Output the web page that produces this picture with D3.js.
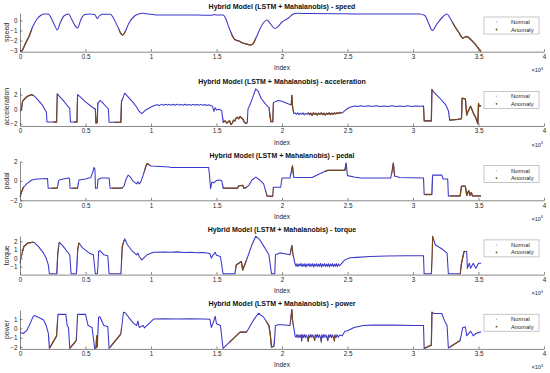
<!DOCTYPE html>
<html><head><meta charset="utf-8">
<script src="https://cdn.jsdelivr.net/npm/d3@7"></script>
<style>
body{margin:0;background:#fff}
svg{display:block}
text{font-family:"Liberation Sans",Arial,Helvetica,sans-serif}
</style>
</head><body>
<svg id="c" width="550" height="373"></svg>
<script>
// ---------- DATA ----------
const xTickValues = [0,5000,10000,15000,20000,25000,30000,35000,40000];
const xTickLabels = ["0","0.5","1","1.5","2","2.5","3","3.5","4"];
const seriesNames = ["speed","acceleration","pedal","torque","power"];
const legendLabels = ["Normal","Anomaly"];

const speedData = [[0,-3.1],[150,-3.02],[400,-2.35],[700,-1.55],[1000,-0.55],[1300,0.15],[1600,0.52],[1800,0.65],[2150,0.65],[2400,0.2],[2650,-0.5],[2850,-0.95],[3050,-0.3],[3350,0.45],[3700,0.65],[3950,0.1],[4150,-0.4],[4400,-0.75],[4650,0.1],[4950,0.6],[5300,0.65],[5700,0.6],[5900,0.2],[6050,0.45],[6300,0.62],[6900,0.62],[7150,0.2],[7450,-0.6],[7700,-1.3],[7850,-1.45],[8000,-1.2],[8300,-0.3],[8700,0.4],[9000,0.62],[9400,0.72],[9800,0.65],[10700,0.55],[12000,0.55],[13500,0.55],[14600,0.52],[14800,0.6],[15000,0.55],[15500,0.55],[15700,0.2],[15950,-0.7],[16200,-1.5],[16400,-1.9],[16700,-2.05],[17000,-2.25],[17300,-2.35],[17600,-2.45],[17800,-2.3],[18000,-1.8],[18300,-0.9],[18600,-0.2],[18850,0.05],[19100,-0.3],[19450,-0.8],[19700,-0.6],[20000,-0.15],[20500,0.25],[20800,0.6],[21100,0.72],[22000,0.7],[24000,0.68],[26000,0.65],[28000,0.65],[30500,0.65],[30900,0.5],[31200,-0.3],[31480,-1.0],[31800,-0.4],[32300,0.4],[32600,0.65],[32800,0.3],[33100,-0.4],[33500,-1.2],[33800,-1.75],[34100,-1.6],[34400,-1.9],[34700,-2.3],[35000,-2.8],[35200,-3.1]];
const speedAnomalies = [[0,900],[7550,8050],[16100,18000],[33000,35200]];

const accelData = [[0,-0.2],[100,-0.1],[200,1.1],[400,1.5],[600,1.8],[900,2.0],[1100,1.8],[1400,1.2],[1700,0.6],[1950,-0.2],[2020,-0.5],[2060,-1.75],[2800,-1.75],[2850,2.1],[3000,1.8],[3300,1.2],[3600,0.5],[3800,0.1],[3850,-1.75],[4350,-1.75],[4400,2.0],[4600,1.7],[5000,1.0],[5500,0.3],[5750,0.0],[5800,-1.9],[5900,-1.8],[5950,0.8],[6100,1.2],[6300,0.9],[6600,0.3],[6750,0.0],[6800,-1.8],[7700,-1.8],[7750,1.0],[8000,2.2],[8200,1.8],[8600,1.0],[8900,0.3],[9100,-0.3],[9300,-0.6],[9600,-0.1],[10000,0.3],[10300,0.55],[10500,0.62],[10650,0.52],[10800,0.66],[10950,0.55],[11100,0.68],[11250,0.56],[11400,0.66],[11550,0.54],[11700,0.67],[11850,0.55],[12000,0.7],[12150,0.56],[12300,0.66],[12450,0.55],[12600,0.68],[12750,0.55],[12900,0.65],[13050,0.54],[13200,0.66],[13350,0.56],[13500,0.64],[13650,0.54],[13800,0.66],[13950,0.55],[14100,0.64],[14250,0.52],[14400,0.6],[14550,0.5],[14700,0.4],[14800,-0.3],[14900,0.2],[15000,-0.1],[15200,0.0],[15400,-0.2],[15500,-1.8],[15650,-1.6],[15800,-1.9],[15900,-1.7],[16000,-1.6],[16100,-2.1],[16200,-1.9],[16300,-1.5],[16400,-1.6],[16500,-1.2],[16600,-1.1],[16700,-1.3],[16800,-1.0],[16900,-1.2],[17000,-1.3],[17100,-1.7],[17200,-1.9],[17350,-1.9],[17400,0.0],[17600,0.8],[17800,1.8],[18000,2.8],[18200,2.4],[18400,1.5],[18700,0.8],[19000,0.2],[19150,-1.7],[19300,-1.7],[19350,0.9],[19700,1.2],[20000,1.1],[20500,0.7],[20700,0.6],[20750,1.9],[20800,0.6],[20900,-0.6],[21000,-0.5],[21100,-0.7],[21200,-0.5],[21300,-0.75],[21400,-0.55],[21500,-0.7],[21600,-0.5],[21700,-0.8],[21800,-0.55],[21900,-0.7],[22000,-0.5],[22100,-0.75],[22200,-0.55],[22300,-0.85],[22400,-0.5],[22500,-0.7],[22600,-0.55],[22700,-0.8],[22800,-0.55],[22900,-0.7],[23000,-0.5],[23100,-0.75],[23200,-0.55],[23300,-0.8],[23400,-0.55],[23500,-0.7],[23600,-0.5],[23700,-0.75],[23800,-0.55],[23900,-0.7],[24000,-0.5],[24100,-0.65],[24200,-0.5],[24300,-0.6],[24400,-0.45],[24600,-0.5],[24800,-0.2],[25000,0.1],[25300,0.35],[25600,0.45],[25800,0.36],[26000,0.46],[26300,0.38],[26600,0.46],[26900,0.38],[27200,0.46],[27500,0.38],[27800,0.45],[28100,0.38],[28400,0.46],[28700,0.38],[29000,0.45],[29300,0.38],[29600,0.46],[29900,0.38],[30200,0.45],[30500,0.4],[30800,0.42],[30850,-1.6],[31400,-1.6],[31450,2.7],[31600,2.3],[32000,1.6],[32500,0.6],[32700,-0.2],[32800,-1.5],[33400,-1.4],[33700,-1.3],[33750,1.5],[34000,1.4],[34100,-0.8],[34200,-0.3],[34400,0.4],[34600,-0.5],[34800,-1.2],[34950,-2.0],[35000,0.8],[35050,0.4],[35200,0.5]];
const accelAnomalies = [[0,1000],[2550,2850],[4150,4400],[5700,5950],[7200,7800],[15500,17300],[19000,19350],[20650,20850],[22000,24500],[30800,31500],[32800,35200]];

const pedalData = [[0,-1.65],[100,-1.2],[250,-0.7],[500,-0.3],[900,0.1],[1300,0.2],[2100,0.25],[2150,-0.75],[2850,-0.75],[2950,0.0],[3000,0.1],[3300,0.2],[3700,0.3],[3780,0.25],[3820,-0.75],[4400,-0.75],[4500,0.1],[5000,0.2],[5400,0.35],[5550,0.9],[5650,1.4],[5720,1.2],[5760,-0.75],[5900,-0.75],[5950,0.15],[6200,0.3],[6800,0.3],[6880,-0.75],[7800,-0.75],[7950,-0.5],[8100,0.2],[8250,0.6],[8400,0.45],[8600,0.0],[8900,-0.3],[9000,-0.1],[9100,-0.3],[9200,-0.15],[9300,0.2],[9400,0.6],[9600,1.5],[9700,1.8],[10000,1.55],[11400,1.45],[11500,1.4],[14400,1.4],[14450,0.8],[14550,-0.8],[14650,-0.1],[14800,-0.2],[15000,0.05],[15200,0.1],[15400,0.05],[15500,-0.75],[16600,-0.75],[16700,-0.5],[17000,-0.45],[17100,-0.75],[17250,-0.7],[17500,-0.4],[17700,0.1],[18000,0.4],[18300,0.1],[18600,-0.3],[18850,-1.55],[19300,-1.6],[19350,-0.65],[19900,-0.65],[20000,0.3],[20600,0.3],[20800,1.55],[20900,0.4],[21000,0.35],[22300,0.35],[22800,0.7],[23300,1.0],[23500,1.1],[24800,1.1],[24900,1.85],[25000,0.55],[25500,0.4],[26000,0.3],[28300,0.3],[28500,1.85],[28600,0.5],[29000,0.35],[30800,0.3],[30850,-1.4],[31450,-1.4],[31500,0.6],[32200,0.6],[32300,0.2],[32650,0.2],[32700,-1.55],[33600,-1.55],[33700,-0.55],[34000,-0.55],[34100,-1.5],[34250,-1.0],[34350,-1.5],[34450,-1.2],[34550,-1.55],[35200,-1.55]];
const pedalAnomalies = [[0,300],[2400,2850],[4000,4400],[7000,7800],[9500,9900],[15500,17300],[18800,19300],[20700,20900],[23300,24900],[28400,28600],[30900,31450],[32800,35200]];

const torqueData = [[0,-0.6],[120,0.4],[300,1.4],[600,1.8],[1000,1.9],[1100,1.85],[1400,1.4],[1800,0.6],[2000,0.0],[2160,-0.8],[2240,-1.85],[2800,-1.85],[2880,0.5],[3000,1.9],[3300,1.4],[3600,0.8],[3800,0.4],[3900,-1.85],[4300,-1.85],[4400,1.0],[4500,1.8],[4800,1.2],[5300,0.6],[5600,0.4],[5750,-1.85],[5900,-1.85],[5950,-1.0],[6000,0.8],[6100,0.9],[6400,0.4],[6700,0.3],[6800,-1.85],[7700,-1.85],[7800,1.4],[8000,2.3],[8200,1.6],[8600,0.8],[8900,0.4],[9000,0.6],[9100,0.2],[9300,-0.2],[9700,0.4],[10200,0.7],[11000,0.72],[11500,0.7],[12000,0.75],[12500,0.68],[13000,0.7],[13500,0.65],[14000,0.68],[14500,0.55],[14600,0.0],[14750,0.4],[14900,0.7],[15000,0.35],[15300,0.2],[15500,-1.85],[16400,-1.85],[16500,-0.8],[16700,-0.6],[16900,-0.4],[17000,-1.4],[17300,-0.2],[17700,1.6],[18000,2.6],[18300,2.2],[18700,1.2],[19000,0.4],[19200,-1.85],[19450,-1.85],[19500,0.4],[19800,0.6],[20000,0.6],[20600,0.4],[20750,1.5],[20850,0.4],[21000,-0.7],[21075,-0.95],[21150,-0.65],[21225,-1.0],[21300,-0.7],[21375,-0.9],[21450,-0.62],[21525,-1.0],[21600,-0.7],[21675,-0.95],[21750,-0.65],[21825,-1.05],[21900,-0.7],[21975,-0.9],[22050,-0.65],[22125,-1.0],[22200,-0.68],[22275,-0.95],[22350,-0.65],[22425,-1.05],[22500,-0.7],[22575,-0.92],[22650,-0.65],[22725,-1.0],[22800,-0.7],[22875,-0.95],[22950,-0.63],[23025,-1.05],[23100,-0.7],[23175,-0.92],[23250,-0.65],[23325,-1.0],[23400,-0.7],[23475,-0.95],[23550,-0.65],[23625,-1.02],[23700,-0.7],[23775,-0.92],[23850,-0.65],[23925,-1.0],[24000,-0.7],[24075,-0.95],[24150,-0.66],[24225,-1.0],[24300,-0.7],[24400,-0.9],[24500,-0.7],[24800,-0.2],[25200,0.05],[25700,0.1],[26700,0.2],[28000,0.25],[29500,0.28],[30800,0.3],[30850,-1.85],[31400,-1.85],[31500,2.6],[31700,1.6],[32300,1.0],[32600,0.6],[32700,-1.85],[33600,-1.85],[33700,-0.6],[33900,0.8],[34100,0.8],[34150,-1.2],[34300,-0.6],[34400,-1.2],[34600,-0.6],[34800,-1.2],[35000,-0.6],[35200,-0.6]];
const torqueAnomalies = [[150,1000],[2800,2950],[4350,4500],[7750,7950],[16450,17300],[20650,20850],[31450,31550],[33600,34000]];

const powerData = [[0,-0.43],[250,-0.55],[500,-0.25],[760,0.47],[1000,1.26],[1100,1.37],[1400,1.2],[1800,0.9],[2000,0.3],[2160,-0.5],[2240,-2.15],[2800,-0.8],[2900,1.5],[3500,1.5],[3600,0.3],[3700,0.1],[3800,-2.15],[4300,-1.3],[4400,1.5],[5000,1.5],[5200,0.3],[5500,0.1],[5700,-2.15],[5800,-2.1],[5850,-0.8],[5900,-2.0],[6000,1.2],[6100,1.25],[6400,0.3],[6700,0.2],[6800,-2.15],[7700,-0.6],[7900,1.73],[8000,1.7],[8200,1.37],[8600,0.65],[8900,0.3],[9000,0.8],[9100,0.1],[9400,0.3],[9500,0.05],[10200,1.0],[11000,1.02],[12000,1.0],[13000,1.02],[14000,1.0],[14500,0.98],[14600,0.1],[14750,0.6],[14900,1.3],[15000,0.5],[15300,0.3],[15500,-2.15],[16500,-0.8],[16800,-0.4],[17300,-0.4],[17800,0.83],[18200,1.62],[18600,1.2],[19000,0.3],[19100,-0.6],[19200,-2.0],[19400,-1.9],[19500,0.3],[19700,0.4],[20000,0.4],[20600,0.3],[20750,2.0],[20800,1.0],[21000,-0.8],[21075,-0.95],[21150,-0.65],[21225,-1.0],[21300,-0.7],[21375,-0.95],[21450,-0.7],[21500,-1.35],[21550,-0.7],[21625,-0.98],[21700,-0.65],[21775,-1.0],[21850,-0.7],[21925,-0.95],[22000,-1.4],[22050,-0.7],[22125,-1.0],[22200,-0.65],[22275,-0.95],[22350,-0.7],[22425,-1.0],[22500,-1.3],[22550,-0.68],[22625,-0.95],[22700,-0.65],[22775,-1.0],[22850,-0.7],[22925,-0.95],[23000,-1.45],[23050,-0.7],[23125,-1.0],[23200,-0.65],[23275,-0.95],[23350,-0.7],[23425,-1.0],[23500,-1.3],[23550,-0.7],[23625,-0.95],[23700,-0.65],[23775,-1.0],[23850,-0.7],[23925,-0.95],[24000,-1.35],[24050,-0.7],[24125,-0.98],[24200,-0.68],[24300,-0.95],[24400,-0.7],[24600,-0.8],[24800,-0.3],[25000,-0.25],[25500,0.1],[26200,0.3],[27000,0.35],[28500,0.35],[30000,0.32],[30800,0.3],[30850,-2.15],[31400,-1.8],[31450,1.73],[31600,1.6],[32200,1.6],[32400,0.83],[32600,0.3],[32700,-2.1],[33600,-1.3],[33800,0.1],[34000,0.15],[34100,-0.8],[34400,-0.3],[34600,-0.8],[34800,-0.55],[35000,-0.43],[35200,-0.36]];
const powerAnomalies = [[2250,2850],[3850,4300],[5750,5900],[6900,7700],[16000,17300],[18800,19400],[20650,20850],[21450,21550],[21950,22050],[22450,22550],[22950,23050],[23450,23550],[23950,24050],[30900,31500],[32800,33600]];

const yDomains = [[-3.12,0.75],[-2.3,3.0],[-2,2],[-1.95,2.65],[-2.2,1.95]];
const yTickValues = [[-3,-2,-1,0],[-2,0,2],[-2,0,2],[-1,0,1,2],[-2,-1,0,1]];

// ---------- DRAW ----------
const svg = d3.select("#c");
svg.append("rect").attr("width",550).attr("height",373).attr("fill","#fff");
const defs = svg.append("defs");
const BLUE = "#3a37c8", BROWN = "#7a4716", AX = "#555", TXT = "#262626";
const x = d3.scaleLinear().domain([0,40000]).range([20,544]);
const datasets = [speedData, accelData, pedalData, torqueData, powerData];
const anomalies = [speedAnomalies, accelAnomalies, pedalAnomalies, torqueAnomalies, powerAnomalies];

seriesNames.forEach((name,k)=>{
  const off = k*74.3, top = 13+off, bot = 51.7+off;
  const y = d3.scaleLinear().domain(yDomains[k]).range([bot,top]);
  const g = svg.append("g");

  const cp = defs.append("clipPath").attr("id","an"+k);
  anomalies[k].forEach(a=>cp.append("rect").attr("x",x(a[0])).attr("width",Math.max(0.5,x(a[1])-x(a[0])))
     .attr("y",top-6).attr("height",bot-top+12));

  const line = d3.line().x(d=>x(d[0])).y(d=>y(d[1])).curve(k===0 ? d3.curveMonotoneX : d3.curveLinear);
  g.append("path").datum(datasets[k]).attr("d",line).attr("fill","none")
    .attr("stroke",BLUE).attr("stroke-width",1.05).attr("stroke-linejoin","round");
  g.append("path").datum(datasets[k]).attr("d",line).attr("fill","none")
    .attr("clip-path",`url(#an${k})`).attr("stroke",BROWN).attr("stroke-width",1.3).attr("stroke-linejoin","round");

  // axes
  const xa = g.append("g").attr("transform",`translate(0,${bot})`)
    .call(d3.axisBottom(x).tickValues(xTickValues).tickFormat((d,i)=>xTickLabels[i]).tickSizeInner(-2.5).tickSizeOuter(0).tickPadding(3));
  const ya = g.append("g").attr("transform",`translate(20,0)`)
    .call(d3.axisLeft(y).tickValues(yTickValues[k]).tickFormat(d3.format("d")).tickSizeInner(-2.5).tickSizeOuter(0).tickPadding(2.5));
  [xa,ya].forEach(a=>{
    a.select(".domain").attr("stroke",AX).attr("stroke-width",0.7);
    a.selectAll(".tick line").attr("stroke",AX).attr("stroke-width",0.7);
    a.selectAll(".tick text").attr("fill",TXT).attr("font-size",6.3).attr("font-family",'"Liberation Sans",Arial,sans-serif');
  });

  // title
  g.append("text").attr("x",282).attr("y",top-3.8).attr("text-anchor","middle")
    .attr("font-size",7).attr("font-weight","bold").attr("fill","#111")
    .text(`Hybrid Model (LSTM + Mahalanobis) - ${name}`);
  // y label
  g.append("text").attr("transform",`translate(9,${(top+bot)/2}) rotate(-90)`).attr("text-anchor","middle")
    .attr("font-size",7).attr("fill",TXT).text(name);
  // x label
  g.append("text").attr("x",282).attr("y",bot+18.5).attr("text-anchor","middle")
    .attr("font-size",6.5).attr("fill",TXT).text("Index");
  // x10^4
  const e = g.append("text").attr("x",543).attr("y",bot+20.5).attr("text-anchor","end")
    .attr("font-size",5.5).attr("fill",TXT);
  e.append("tspan").text("\u00d710");
  e.append("tspan").attr("dy",-2.5).attr("font-size",4).text("4");

  // legend
  const lg = g.append("g").attr("transform",`translate(484,${top+4})`);
  lg.append("rect").attr("width",55).attr("height",17).attr("fill","#fff").attr("stroke","#a0a0a0").attr("stroke-width",0.6);
  lg.append("circle").attr("cx",12.5).attr("cy",5).attr("r",0.7).attr("fill","#c8a8d8");
  lg.append("circle").attr("cx",12.5).attr("cy",12.5).attr("r",0.9).attr("fill",BROWN);
  lg.append("text").attr("x",27).attr("y",7).attr("font-size",5.8).attr("fill",TXT).text(legendLabels[0]);
  lg.append("text").attr("x",27).attr("y",14.5).attr("font-size",5.8).attr("fill",TXT).text(legendLabels[1]);
});
</script>
</body></html>
